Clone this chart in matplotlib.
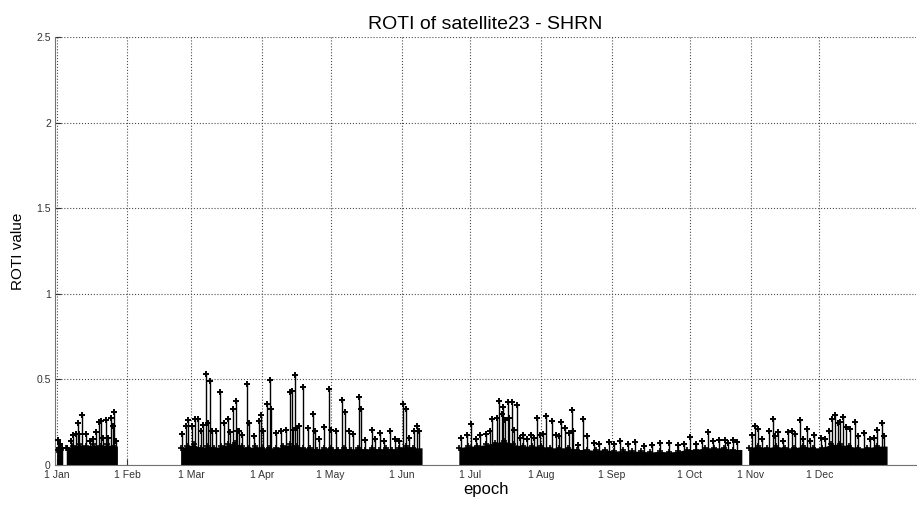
import numpy as np
import matplotlib.pyplot as plt

plt.rcParams['font.family'] = ['Liberation Sans', 'DejaVu Sans']

# epoch = days since 1 Jan, start / end of each block of data
seg_start = [0.0, 4.3, 54.3, 176.1, 303.0]
seg_end = [2.6, 26.6, 160.0, 300.0, 363.6]

# top of the dense ROTI cloud
band_day = [0.0, 1.0, 2.0,
            4.3, 7, 10, 13, 16, 19, 22, 25,
            54.3, 57, 60, 63, 66, 69, 72, 75, 78, 81, 84, 87, 90, 93, 96, 99,
            102, 105, 108, 111, 114, 117, 120, 123, 126, 129, 132, 135, 138,
            141, 144, 147, 150, 153, 156,
            176.1, 180, 184, 188, 192, 196, 200, 204, 208, 212, 216, 220, 224,
            228, 232, 236, 240, 244, 248, 252, 256, 260, 264, 268, 272, 276,
            280, 284, 288, 292, 296,
            303.0, 307, 311, 315, 319, 323, 327, 331, 335, 339, 343, 347, 351,
            355, 359]
band_val = [0.09, 0.10, 0.085,
            0.10, 0.11, 0.12, 0.11, 0.12, 0.11, 0.12, 0.11,
            0.10, 0.11, 0.12, 0.10, 0.11, 0.10, 0.11, 0.12, 0.13, 0.11, 0.10,
            0.11, 0.10, 0.10, 0.10, 0.11, 0.12, 0.11, 0.10, 0.10, 0.09, 0.10,
            0.10, 0.09, 0.10, 0.09, 0.10, 0.09, 0.10, 0.09, 0.10, 0.09, 0.10,
            0.11, 0.10,
            0.10, 0.11, 0.11, 0.12, 0.13, 0.14, 0.12, 0.11, 0.11, 0.11, 0.10,
            0.10, 0.10, 0.09, 0.09, 0.085, 0.09, 0.08, 0.085, 0.08, 0.08,
            0.075, 0.08, 0.075, 0.08, 0.09, 0.09, 0.10, 0.10, 0.10, 0.09,
            0.10, 0.11, 0.10, 0.11, 0.10, 0.10, 0.11, 0.10, 0.10, 0.12, 0.12,
            0.11, 0.10, 0.10, 0.11]

# spikes above the cloud
peak_day = [0.4, 1.3, 2.2,
            4.75, 6.2, 7.1, 8.4, 9.4, 9.9, 11.3, 12.8, 14.7, 16.0, 17.1, 18.6,
            19.3, 20.5, 21.5, 22.5, 24.0, 24.9, 25.2, 25.9,
            55.1, 56.5, 57.7, 59.2, 60.4, 61.8, 63.0, 64.1, 65.3, 66.3, 67.2,
            68.2, 69.9, 71.4, 73.3, 74.9, 76.0, 77.1, 78.4, 79.1, 80.0, 81.3,
            83.4, 84.3, 86.5, 88.6, 89.4, 90.4, 92.3, 93.4, 93.7, 95.9, 98.1,
            100.6, 102.2, 102.9, 103.5, 104.2, 105.4, 106.1, 108.0, 110.1,
            112.2, 113.1, 115.0, 117.2, 119.2, 120.2, 122.3, 124.9, 126.1,
            128.1, 129.9, 132.4, 133.1, 135.0, 137.9, 139.5, 141.8, 143.5,
            145.9, 148.0, 150.0, 151.8, 153.0, 154.2, 156.4, 157.6, 158.6,
            177.1, 179.5, 181.5, 183.5, 185.3, 187.8, 189.7, 190.5, 192.6,
            193.9, 194.8, 195.5, 196.2, 197.5, 198.1, 199.3, 200.2, 201.6,
            203.0, 204.3, 206.0, 207.5, 209.0, 210.4, 211.8, 213.0, 214.3,
            216.7, 218.8, 220.0, 221.0, 222.8, 224.2, 225.6, 226.1, 228.3,
            230.5, 232.3, 235.2, 237.5, 241.7, 244.0, 246.8, 250.0, 253.4,
            257.0, 260.5, 264.3, 268.3, 272.0, 274.5, 277.5, 280.1, 282.5,
            285.2, 287.6, 290.1, 292.5, 294.0, 296.0, 297.9,
            304.4, 305.9, 306.9, 309.0, 311.7, 313.6, 314.7, 315.7, 318.0,
            320.1, 322.0, 323.1, 325.6, 327.0, 328.5, 330.0, 331.7, 334.8,
            336.5, 338.0, 339.4, 340.6, 341.9, 343.1, 344.5, 345.7, 347.4,
            349.4, 351.0, 353.7, 356.0, 358.0, 359.4, 361.3, 362.4]
peak_val = [0.143, 0.12, 0.10,
            0.10, 0.137, 0.176, 0.18, 0.245, 0.18, 0.29, 0.18, 0.14, 0.15, 0.19,
            0.25, 0.255, 0.16, 0.26, 0.157, 0.275, 0.23, 0.31, 0.14,
            0.182, 0.225, 0.265, 0.23, 0.27, 0.27, 0.20, 0.235, 0.533, 0.245,
            0.49, 0.196, 0.196, 0.427, 0.245, 0.27, 0.19, 0.327, 0.373, 0.20,
            0.20, 0.176, 0.47, 0.245, 0.17, 0.255, 0.294, 0.196, 0.357, 0.494,
            0.324, 0.186, 0.196, 0.206, 0.425, 0.43, 0.206, 0.524, 0.216,
            0.225, 0.455, 0.216, 0.30, 0.196, 0.15, 0.22, 0.445, 0.206, 0.20,
            0.38, 0.308, 0.196, 0.18, 0.396, 0.324, 0.147, 0.206, 0.15, 0.186,
            0.14, 0.196, 0.15, 0.14, 0.353, 0.324, 0.157, 0.196, 0.23, 0.196,
            0.157, 0.176, 0.24, 0.15, 0.176, 0.18, 0.20, 0.27, 0.275, 0.376,
            0.30, 0.34, 0.265, 0.369, 0.275, 0.369, 0.206, 0.35, 0.16, 0.176,
            0.15, 0.176, 0.16, 0.275, 0.176, 0.18, 0.288, 0.255, 0.176, 0.17,
            0.25, 0.216, 0.186, 0.32, 0.196, 0.118, 0.27, 0.167, 0.127, 0.12,
            0.133, 0.12, 0.137, 0.12, 0.133, 0.11, 0.115, 0.127, 0.127, 0.115,
            0.12, 0.163, 0.124, 0.14, 0.19, 0.141, 0.147, 0.147, 0.13, 0.147,
            0.131,
            0.176, 0.225, 0.212, 0.15, 0.20, 0.27, 0.167, 0.19, 0.14, 0.19,
            0.196, 0.18, 0.26, 0.15, 0.21, 0.14, 0.176, 0.157, 0.15, 0.20,
            0.27, 0.29, 0.245, 0.25, 0.28, 0.22, 0.21, 0.25, 0.17, 0.186,
            0.15, 0.16, 0.206, 0.245, 0.167]

month_tick = [0, 31, 59, 90, 120, 151, 181, 212, 243, 277.1, 304, 334]
month_label = ['1 Jan', '1 Feb', '1 Mar', '1 Apr', '1 May', '1 Jun',
               '1 Jul', '1 Aug', '1 Sep', '1 Oct', '1 Nov', '1 Dec']

fig = plt.figure(figsize=(9.17, 5.07), dpi=100)
ax = fig.add_axes([0.06, 0.083, 0.939, 0.844])

band_day = np.array(band_day)
band_val = np.array(band_val)

# dense cloud, one block per data segment
for s, e in zip(seg_start, seg_end):
    m = (band_day >= s) & (band_day < e)
    x = np.append(band_day[m], e)
    y = np.append(band_val[m], band_val[m][-1])
    ax.fill_between(x, 0, y, color='k', lw=0, zorder=2)
ax.plot(band_day, band_val, 'k+', ms=4, mew=1.2, zorder=3)

# spikes
ax.vlines(peak_day, 0, peak_val, color='k', lw=1, zorder=3)
ax.plot(peak_day, peak_val, 'k+', ms=4.5, mew=1.4, zorder=4)

ax.set_xlim(-0.7, 376.3)
ax.set_ylim(0, 2.5)
ax.set_xticks(month_tick)
ax.set_xticklabels(month_label)
ax.set_yticks([0, 0.5, 1, 1.5, 2, 2.5])
ax.set_yticklabels(['0', '0.5', '1', '1.5', '2', '2.5'])
ax.tick_params(direction='in', length=4, labelsize=7.5, colors='0.2')
ax.tick_params(axis='x', pad=4)
ax.tick_params(axis='y', pad=3)
ax.grid(True, linestyle=':', color='0.3', lw=0.8)
ax.set_axisbelow(True)
for side in ['top', 'right']:
    ax.spines[side].set_visible(False)
for side in ['left', 'bottom']:
    ax.spines[side].set_color('0.45')

ax.set_title('ROTI of satellite23 - SHRN', fontsize=14, pad=6)
ax.set_xlabel('epoch', fontsize=12, labelpad=1)
ax.set_ylabel('ROTI value', fontsize=11, labelpad=8)

fig.savefig('out.png', dpi=100)
